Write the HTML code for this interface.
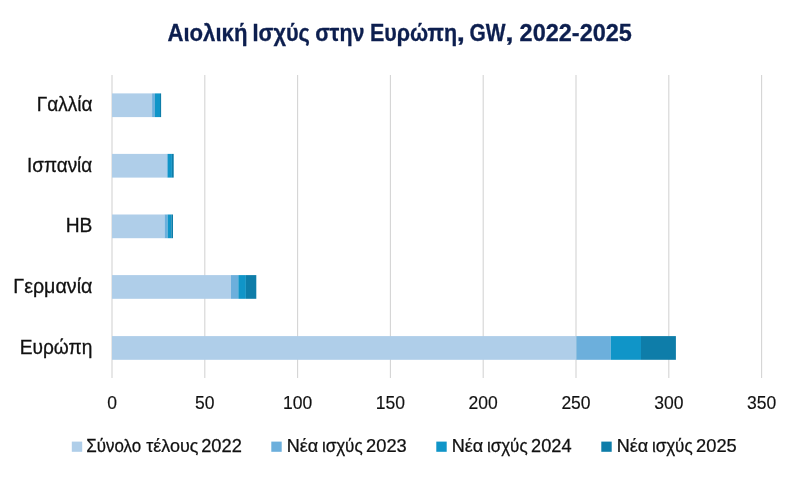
<!DOCTYPE html>
<html lang="el">
<head>
<meta charset="utf-8">
<title>Αιολική Ισχύς στην Ευρώπη</title>
<style>
html,body{margin:0;padding:0;background:#fff;}
body{width:800px;height:478px;overflow:hidden;font-family:"Liberation Sans",sans-serif;}
svg{display:block;}
text{font-family:"Liberation Sans",sans-serif;}
.title{font-weight:bold;fill:#0d1f4f;stroke:#0d1f4f;stroke-width:0.3px;}
.cat{fill:#111111;stroke:#111111;stroke-width:0.3px;}
.ax{font-size:17.5px;fill:#111111;stroke:#111111;stroke-width:0.15px;}
.lg{fill:#111111;stroke:#111111;stroke-width:0.25px;}
</style>
</head>
<body>
<svg width="800" height="478" viewBox="0 0 800 478">
<rect width="800" height="478" fill="#ffffff"/>
<g>
<text class="title" style="font-size:24.8px" transform="translate(167.44 40.5) scale(0.8935 1)">Αιολική</text>
<text class="title" style="font-size:24.8px" transform="translate(252.58 40.5) scale(0.8750 1)">Ισχύς</text>
<text class="title" style="font-size:24.8px" transform="translate(315.14 40.5) scale(0.8667 1)">στην</text>
<text class="title" style="font-size:24.8px" transform="translate(369.89 40.5) scale(0.8670 1)">Ευρώπη</text>
<text class="title" style="font-size:23.6px" transform="translate(456.85 40.5) scale(1.2409 1)">,</text>
<text class="title" style="font-size:23.6px" transform="translate(469.56 40.5) scale(0.8878 1)">GW</text>
<text class="title" style="font-size:23.6px" transform="translate(505.30 40.5) scale(1.2712 1)">,</text>
<text class="title" style="font-size:23.6px" transform="translate(519.60 40.5) scale(0.9956 1)">2022-2025</text>
</g>
<g stroke="#d4d4d4" stroke-width="1.1">
<line x1="112.0" y1="75" x2="112.0" y2="378"/>
<line x1="204.8" y1="75" x2="204.8" y2="378"/>
<line x1="297.6" y1="75" x2="297.6" y2="378"/>
<line x1="390.4" y1="75" x2="390.4" y2="378"/>
<line x1="483.2" y1="75" x2="483.2" y2="378"/>
<line x1="576.0" y1="75" x2="576.0" y2="378"/>
<line x1="668.8" y1="75" x2="668.8" y2="378"/>
<line x1="761.6" y1="75" x2="761.6" y2="378"/>
</g>
<g>
<rect x="112.0" y="93.4" width="40.1" height="23.7" fill="#afcee9"/>
<rect x="152.1" y="93.4" width="2.8" height="23.7" fill="#6cafdc"/>
<rect x="154.9" y="93.4" width="5.1" height="23.7" fill="#1095c8"/>
<rect x="160.0" y="93.4" width="1.1" height="23.7" fill="#0e7da9"/>
<rect x="112.0" y="153.9" width="54.7" height="23.7" fill="#afcee9"/>
<rect x="166.7" y="153.9" width="1.1" height="23.7" fill="#6cafdc"/>
<rect x="167.8" y="153.9" width="4.1" height="23.7" fill="#1095c8"/>
<rect x="171.9" y="153.9" width="1.8" height="23.7" fill="#0e7da9"/>
<rect x="112.0" y="214.5" width="52.6" height="23.7" fill="#afcee9"/>
<rect x="164.6" y="214.5" width="3.0" height="23.7" fill="#6cafdc"/>
<rect x="167.6" y="214.5" width="3.7" height="23.7" fill="#1095c8"/>
<rect x="171.3" y="214.5" width="1.7" height="23.7" fill="#0e7da9"/>
<rect x="112.0" y="275.1" width="119.0" height="23.7" fill="#afcee9"/>
<rect x="231.0" y="275.1" width="7.3" height="23.7" fill="#6cafdc"/>
<rect x="238.3" y="275.1" width="7.6" height="23.7" fill="#1095c8"/>
<rect x="245.9" y="275.1" width="10.4" height="23.7" fill="#0e7da9"/>
<rect x="112.0" y="336.1" width="464.3" height="23.7" fill="#afcee9"/>
<rect x="576.3" y="336.1" width="34.5" height="23.7" fill="#6cafdc"/>
<rect x="610.8" y="336.1" width="30.2" height="23.7" fill="#1095c8"/>
<rect x="641.0" y="336.1" width="34.9" height="23.7" fill="#0e7da9"/>
</g>
<g>
<text class="cat" style="font-size:20px" transform="translate(36.78 111.0) scale(0.9504 1)">Γαλλία</text>
<text class="cat" style="font-size:20px" transform="translate(27.00 171.65) scale(0.9459 1)">Ισπανία</text>
<text class="cat" style="font-size:20px" transform="translate(65.76 232.3) scale(0.9603 1)">ΗΒ</text>
<text class="cat" style="font-size:20px" transform="translate(13.33 292.95) scale(0.9840 1)">Γερμανία</text>
<text class="cat" style="font-size:20px" transform="translate(19.72 353.6) scale(0.9582 1)">Ευρώπη</text>
</g>
<g class="ax" text-anchor="middle">
<text x="112.0" y="409">0</text>
<text x="204.8" y="409">50</text>
<text x="297.6" y="409">100</text>
<text x="390.4" y="409">150</text>
<text x="483.2" y="409">200</text>
<text x="576.0" y="409">250</text>
<text x="668.8" y="409">300</text>
<text x="761.6" y="409">350</text>
</g>
<g>
<rect x="71.80" y="441.6" width="10.4" height="10.2" fill="#afcee9"/>
<rect x="271.30" y="441.6" width="10.4" height="10.2" fill="#6cafdc"/>
<rect x="436.30" y="441.6" width="10.4" height="10.2" fill="#1095c8"/>
<rect x="601.30" y="441.6" width="10.4" height="10.2" fill="#0e7da9"/>
</g>
<g>
<text class="lg" style="font-size:17.6px" transform="translate(86.25 452.0) scale(0.9614 1)">Σύνολο</text>
<text class="lg" style="font-size:17.6px" transform="translate(146.22 452.0) scale(1.0196 1)">τέλους</text>
<text class="lg" style="font-size:17.8px" transform="translate(201.18 452.0) scale(1.0282 1)">2022</text>
<text class="lg" style="font-size:17.6px" transform="translate(286.65 452.0) scale(1.0266 1)">Νέα</text>
<text class="lg" style="font-size:17.6px" transform="translate(321.91 452.0) scale(0.9676 1)">ισχύς</text>
<text class="lg" style="font-size:17.8px" transform="translate(366.08 452.0) scale(1.0286 1)">2023</text>
<text class="lg" style="font-size:17.6px" transform="translate(451.65 452.0) scale(1.0266 1)">Νέα</text>
<text class="lg" style="font-size:17.6px" transform="translate(486.91 452.0) scale(0.9676 1)">ισχύς</text>
<text class="lg" style="font-size:17.8px" transform="translate(531.09 452.0) scale(1.0238 1)">2024</text>
<text class="lg" style="font-size:17.6px" transform="translate(616.65 452.0) scale(1.0266 1)">Νέα</text>
<text class="lg" style="font-size:17.6px" transform="translate(651.91 452.0) scale(0.9676 1)">ισχύς</text>
<text class="lg" style="font-size:17.8px" transform="translate(696.08 452.0) scale(1.0286 1)">2025</text>
</g>
</svg>
</body>
</html>
